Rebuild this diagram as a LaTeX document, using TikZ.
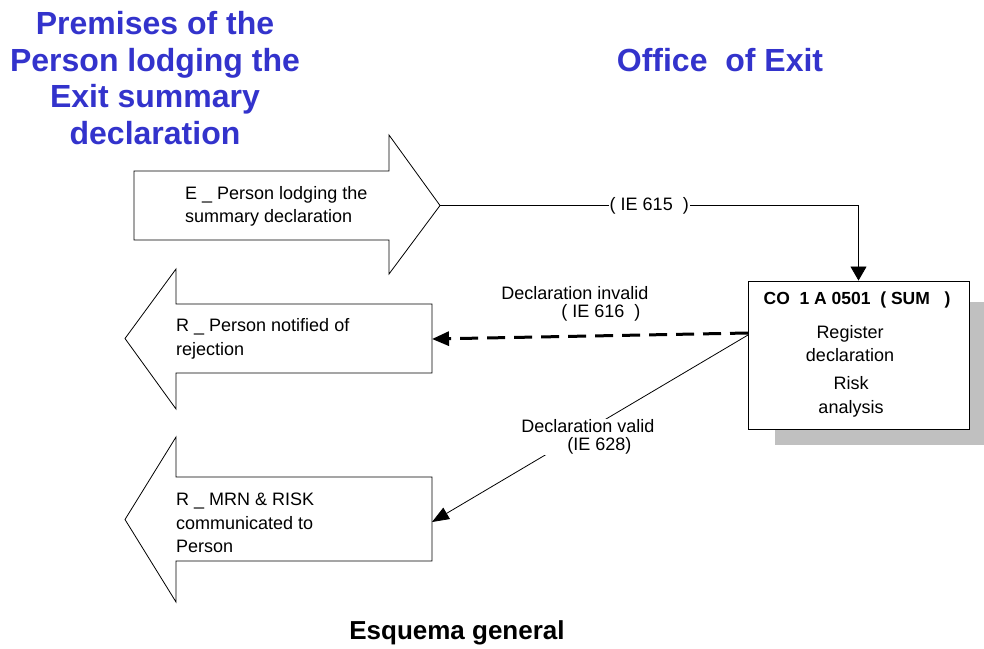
\documentclass[tikz,border=0pt]{standalone}
\usepackage{fontspec}
\setmainfont{Liberation Sans}
\usetikzlibrary{arrows.meta}
\definecolor{ttlblue}{RGB}{51,51,204}
\definecolor{shadowgray}{RGB}{192,192,192}
\begin{document}
\begin{tikzpicture}[x=1pt,y=-1pt,
  fatarrow/.style={draw=black,line width=0.8pt,fill=white,line join=miter},
  arrtext/.style={font=\fontsize{18}{23.5}\selectfont,align=left,inner sep=0pt,anchor=west},
  heading/.style={font=\fontsize{32}{36.5}\selectfont\bfseries,text=ttlblue,align=center,inner sep=0pt},
  boxtext/.style={font=\fontsize{18}{23.5}\selectfont,align=center,inner sep=0pt},
  flow/.style={line width=0.8pt,-{Triangle[length=14pt,width=16pt]}},
  flowb/.style={line width=0.8pt,-{Triangle[length=17pt,width=13pt]}},
  dashflow/.style={line width=3pt,dash pattern=on 18pt off 9pt,-{Triangle[length=17pt,width=14pt]}},
  lbl/.style={font=\fontsize{18}{18}\selectfont,fill=white,inner sep=1pt,align=left}]
\useasboundingbox (0,0) rectangle (984,648);

% headings
\node[heading] (premises) at (155,78) {Premises of the\\Person lodging the\\Exit summary\\declaration};
\node[heading] (office) at (720,60) {Office\ \ of Exit};

% fat arrows
\draw[fatarrow] (134,171) -- (389,171) -- (389,135) -- (440,205.5) -- (389,274) -- (389,240) -- (134,240) -- cycle;
\coordinate (a1tip) at (440,205.5);
\node[arrtext] (a1text) at (185,206.5) {E \_ Person lodging the\\summary declaration};

\draw[fatarrow] (432,304) -- (176,304) -- (176,269) -- (125,338.5) -- (176,409) -- (176,373) -- (432,373) -- cycle;
\coordinate (a2in) at (432,339);
\node[arrtext] (a2text) at (176,339) {R \_ Person notified of\\rejection};

\draw[fatarrow] (432,477) -- (176,477) -- (176,437) -- (125,519.5) -- (176,602) -- (176,561) -- (432,561) -- cycle;
\coordinate (a3in) at (432,522);
\node[arrtext] (a3text) at (176,523) {R \_ MRN \& RISK\\communicated to\\Person};

% process box with shadow
\fill[shadowgray] (775,302) rectangle (984,445);
\node[draw,line width=0.9pt,fill=white,minimum width=221pt,minimum height=148pt,inner sep=0pt] (co) at (858.5,355) {};
\node[font=\fontsize{17.5}{20}\selectfont\bfseries,inner sep=0pt] (cotitle) at (857,300) {CO\ \ 1 A 0501\ \ ( SUM\ \ \ )};
\node[boxtext] (coreg) at (850,343.5) {Register\\declaration};
\node[boxtext] (corisk) at (851,397) {Risk\\analysis};

% connectors
\draw[flow] (a1tip) -| node[lbl,pos=0.25] (ie615) {( IE 615\ \ )} (co.north);

\coordinate (coL1) at (748,333);
\draw[dashflow] (coL1) -- (a2in);
\node[lbl,fill=none] (invlbl) at (575,304) {Declaration invalid\\\hspace*{60pt}( IE 616\ \ )};

\coordinate (coL2) at (748,335);
\draw[flowb] (coL2) -- (a3in);
\node[lbl] (vallbl) at (588,437) {Declaration valid\\\hspace*{46pt}(IE 628)};

% caption
\node[font=\fontsize{26}{26}\selectfont\bfseries,inner sep=0pt] (esq) at (457,633) {Esquema general};
\end{tikzpicture}
\end{document}
